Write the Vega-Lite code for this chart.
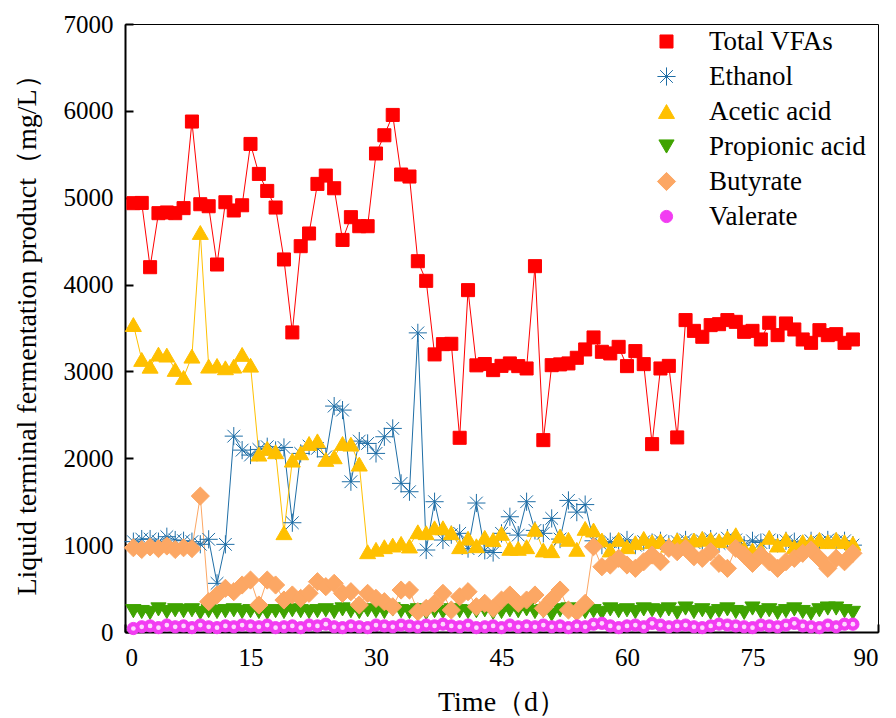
{
  "$schema": "https://vega.github.io/schema/vega-lite/v6.json",
  "width": 753,
  "height": 608,
  "autosize": {"type": "none"},
  "padding": {"left": 125, "top": 24, "right": 18, "bottom": 86},
  "background": "white",
  "config": {
    "view": {"stroke": "#000", "strokeWidth": 1},
    "axis": {"domainColor": "#000", "domainWidth": 2, "tickColor": "#000", "tickWidth": 2, "tickSize": -8, "grid": false,
      "labelFont": "Liberation Serif", "labelFontSize": 25, "labelColor": "#000",
      "titleFont": "Liberation Serif", "titleFontSize": 28, "titleFontWeight": "normal", "titleColor": "#000"},
    "legend": {"labelFont": "Liberation Serif", "labelFontSize": 27, "labelColor": "#000", "labelOffset": 29, "rowPadding": 7, "symbolStrokeWidth": 1, "padding": 0}
  },
  "data": {"values": [
    {"d":1,"Total VFAs":4937,"Ethanol":1040,"Acetic acid":3540,"Propionic acid":240,"Butyrate":970,"Valerate":40},
    {"d":2,"Total VFAs":4940,"Ethanol":1070,"Acetic acid":3138,"Propionic acid":230,"Butyrate":950,"Valerate":60},
    {"d":3,"Total VFAs":4200,"Ethanol":1070,"Acetic acid":3060,"Propionic acid":220,"Butyrate":980,"Valerate":70},
    {"d":4,"Total VFAs":4822,"Ethanol":1040,"Acetic acid":3199,"Propionic acid":260,"Butyrate":960,"Valerate":50},
    {"d":5,"Total VFAs":4830,"Ethanol":1097,"Acetic acid":3188,"Propionic acid":230,"Butyrate":990,"Valerate":80},
    {"d":6,"Total VFAs":4822,"Ethanol":1059,"Acetic acid":3023,"Propionic acid":250,"Butyrate":950,"Valerate":60},
    {"d":7,"Total VFAs":4880,"Ethanol":1051,"Acetic acid":2931,"Propionic acid":240,"Butyrate":970,"Valerate":70},
    {"d":8,"Total VFAs":5877,"Ethanol":1040,"Acetic acid":3176,"Propionic acid":250,"Butyrate":960,"Valerate":50},
    {"d":9,"Total VFAs":4925,"Ethanol":1010,"Acetic acid":4600,"Propionic acid":220,"Butyrate":1565,"Valerate":80},
    {"d":10,"Total VFAs":4902,"Ethanol":1067,"Acetic acid":3061,"Propionic acid":240,"Butyrate":349,"Valerate":60},
    {"d":11,"Total VFAs":4231,"Ethanol":560,"Acetic acid":3069,"Propionic acid":230,"Butyrate":426,"Valerate":50},
    {"d":12,"Total VFAs":4948,"Ethanol":1009,"Acetic acid":3042,"Propionic acid":240,"Butyrate":503,"Valerate":70},
    {"d":13,"Total VFAs":4853,"Ethanol":2255,"Acetic acid":3061,"Propionic acid":250,"Butyrate":464,"Valerate":60},
    {"d":14,"Total VFAs":4913,"Ethanol":2094,"Acetic acid":3196,"Propionic acid":230,"Butyrate":541,"Valerate":80},
    {"d":15,"Total VFAs":5619,"Ethanol":2037,"Acetic acid":3072,"Propionic acid":240,"Butyrate":598,"Valerate":70},
    {"d":16,"Total VFAs":5274,"Ethanol":2102,"Acetic acid":2048,"Propionic acid":230,"Butyrate":311,"Valerate":60},
    {"d":17,"Total VFAs":5078,"Ethanol":2133,"Acetic acid":2114,"Propionic acid":220,"Butyrate":598,"Valerate":80},
    {"d":18,"Total VFAs":4887,"Ethanol":2090,"Acetic acid":2075,"Propionic acid":240,"Butyrate":541,"Valerate":50},
    {"d":19,"Total VFAs":4289,"Ethanol":2125,"Acetic acid":1143,"Propionic acid":230,"Butyrate":368,"Valerate":60},
    {"d":20,"Total VFAs":3449,"Ethanol":1258,"Acetic acid":1979,"Propionic acid":250,"Butyrate":426,"Valerate":70},
    {"d":21,"Total VFAs":4442,"Ethanol":2056,"Acetic acid":2063,"Propionic acid":240,"Butyrate":387,"Valerate":50},
    {"d":22,"Total VFAs":4588,"Ethanol":2140,"Acetic acid":2171,"Propionic acid":230,"Butyrate":445,"Valerate":80},
    {"d":23,"Total VFAs":5159,"Ethanol":2114,"Acetic acid":2201,"Propionic acid":240,"Butyrate":579,"Valerate":70},
    {"d":24,"Total VFAs":5255,"Ethanol":2017,"Acetic acid":1987,"Propionic acid":250,"Butyrate":522,"Valerate":90},
    {"d":25,"Total VFAs":5109,"Ethanol":2601,"Acetic acid":2017,"Propionic acid":230,"Butyrate":560,"Valerate":60},
    {"d":26,"Total VFAs":4514,"Ethanol":2555,"Acetic acid":2171,"Propionic acid":260,"Butyrate":445,"Valerate":50},
    {"d":27,"Total VFAs":4776,"Ethanol":1730,"Acetic acid":2163,"Propionic acid":240,"Butyrate":464,"Valerate":70},
    {"d":28,"Total VFAs":4672,"Ethanol":2198,"Acetic acid":1933,"Propionic acid":230,"Butyrate":311,"Valerate":60},
    {"d":29,"Total VFAs":4672,"Ethanol":2171,"Acetic acid":924,"Propionic acid":250,"Butyrate":445,"Valerate":50},
    {"d":30,"Total VFAs":5509,"Ethanol":2056,"Acetic acid":952,"Propionic acid":240,"Butyrate":387,"Valerate":80},
    {"d":31,"Total VFAs":5719,"Ethanol":2248,"Acetic acid":982,"Propionic acid":230,"Butyrate":349,"Valerate":70},
    {"d":32,"Total VFAs":5953,"Ethanol":2344,"Acetic acid":1001,"Propionic acid":260,"Butyrate":291,"Valerate":60},
    {"d":33,"Total VFAs":5267,"Ethanol":1711,"Acetic acid":1021,"Propionic acid":240,"Butyrate":483,"Valerate":80},
    {"d":34,"Total VFAs":5244,"Ethanol":1615,"Acetic acid":990,"Propionic acid":230,"Butyrate":483,"Valerate":70},
    {"d":35,"Total VFAs":4269,"Ethanol":3444,"Acetic acid":1154,"Propionic acid":250,"Butyrate":234,"Valerate":60},
    {"d":36,"Total VFAs":4043,"Ethanol":944,"Acetic acid":1143,"Propionic acid":220,"Butyrate":272,"Valerate":80},
    {"d":37,"Total VFAs":3196,"Ethanol":1500,"Acetic acid":1200,"Propionic acid":240,"Butyrate":330,"Valerate":70},
    {"d":38,"Total VFAs":3314,"Ethanol":1059,"Acetic acid":1200,"Propionic acid":230,"Butyrate":445,"Valerate":90},
    {"d":39,"Total VFAs":3318,"Ethanol":1120,"Acetic acid":1143,"Propionic acid":250,"Butyrate":253,"Valerate":70},
    {"d":40,"Total VFAs":2236,"Ethanol":1136,"Acetic acid":982,"Propionic acid":240,"Butyrate":406,"Valerate":60},
    {"d":41,"Total VFAs":3936,"Ethanol":960,"Acetic acid":1080,"Propionic acid":230,"Butyrate":464,"Valerate":80},
    {"d":42,"Total VFAs":3070,"Ethanol":1485,"Acetic acid":993,"Propionic acid":240,"Butyrate":291,"Valerate":50},
    {"d":43,"Total VFAs":3085,"Ethanol":940,"Acetic acid":1090,"Propionic acid":250,"Butyrate":330,"Valerate":60},
    {"d":44,"Total VFAs":3015,"Ethanol":915,"Acetic acid":1063,"Propionic acid":220,"Butyrate":272,"Valerate":70},
    {"d":45,"Total VFAs":3064,"Ethanol":1136,"Acetic acid":1136,"Propionic acid":230,"Butyrate":368,"Valerate":50},
    {"d":46,"Total VFAs":3092,"Ethanol":1327,"Acetic acid":963,"Propionic acid":250,"Butyrate":426,"Valerate":80},
    {"d":47,"Total VFAs":3061,"Ethanol":1116,"Acetic acid":963,"Propionic acid":240,"Butyrate":330,"Valerate":60},
    {"d":48,"Total VFAs":3034,"Ethanol":1500,"Acetic acid":982,"Propionic acid":260,"Butyrate":368,"Valerate":70},
    {"d":49,"Total VFAs":4212,"Ethanol":1170,"Acetic acid":1182,"Propionic acid":230,"Butyrate":426,"Valerate":60},
    {"d":50,"Total VFAs":2209,"Ethanol":1136,"Acetic acid":944,"Propionic acid":240,"Butyrate":272,"Valerate":80},
    {"d":51,"Total VFAs":3072,"Ethanol":1308,"Acetic acid":936,"Propionic acid":200,"Butyrate":376,"Valerate":60},
    {"d":52,"Total VFAs":3081,"Ethanol":1070,"Acetic acid":1105,"Propionic acid":250,"Butyrate":483,"Valerate":70},
    {"d":53,"Total VFAs":3092,"Ethanol":1515,"Acetic acid":1067,"Propionic acid":260,"Butyrate":253,"Valerate":50},
    {"d":54,"Total VFAs":3157,"Ethanol":1380,"Acetic acid":952,"Propionic acid":210,"Butyrate":234,"Valerate":70},
    {"d":55,"Total VFAs":3253,"Ethanol":1467,"Acetic acid":1193,"Propionic acid":230,"Butyrate":330,"Valerate":60},
    {"d":56,"Total VFAs":3391,"Ethanol":1050,"Acetic acid":1174,"Propionic acid":240,"Butyrate":982,"Valerate":90},
    {"d":57,"Total VFAs":3226,"Ethanol":1000,"Acetic acid":1059,"Propionic acid":220,"Butyrate":751,"Valerate":100},
    {"d":58,"Total VFAs":3207,"Ethanol":1040,"Acetic acid":944,"Propionic acid":260,"Butyrate":771,"Valerate":70},
    {"d":59,"Total VFAs":3283,"Ethanol":1020,"Acetic acid":1067,"Propionic acid":240,"Butyrate":848,"Valerate":50},
    {"d":60,"Total VFAs":3061,"Ethanol":1060,"Acetic acid":982,"Propionic acid":250,"Butyrate":771,"Valerate":70},
    {"d":61,"Total VFAs":3234,"Ethanol":1000,"Acetic acid":1028,"Propionic acid":230,"Butyrate":733,"Valerate":80},
    {"d":62,"Total VFAs":3084,"Ethanol":1040,"Acetic acid":1078,"Propionic acid":260,"Butyrate":809,"Valerate":60},
    {"d":63,"Total VFAs":2163,"Ethanol":1030,"Acetic acid":1040,"Propionic acid":250,"Butyrate":886,"Valerate":100},
    {"d":64,"Total VFAs":3034,"Ethanol":1050,"Acetic acid":1050,"Propionic acid":240,"Butyrate":809,"Valerate":80},
    {"d":65,"Total VFAs":3064,"Ethanol":1010,"Acetic acid":1000,"Propionic acid":260,"Butyrate":963,"Valerate":60},
    {"d":66,"Total VFAs":2240,"Ethanol":1040,"Acetic acid":1059,"Propionic acid":220,"Butyrate":924,"Valerate":70},
    {"d":67,"Total VFAs":3591,"Ethanol":1060,"Acetic acid":1032,"Propionic acid":270,"Butyrate":963,"Valerate":80},
    {"d":68,"Total VFAs":3467,"Ethanol":1030,"Acetic acid":1059,"Propionic acid":230,"Butyrate":867,"Valerate":60},
    {"d":69,"Total VFAs":3399,"Ethanol":1050,"Acetic acid":1078,"Propionic acid":250,"Butyrate":848,"Valerate":50},
    {"d":70,"Total VFAs":3533,"Ethanol":1070,"Acetic acid":1067,"Propionic acid":220,"Butyrate":924,"Valerate":70},
    {"d":71,"Total VFAs":3544,"Ethanol":1020,"Acetic acid":1051,"Propionic acid":240,"Butyrate":790,"Valerate":90},
    {"d":72,"Total VFAs":3591,"Ethanol":1080,"Acetic acid":1085,"Propionic acid":260,"Butyrate":733,"Valerate":80},
    {"d":73,"Total VFAs":3571,"Ethanol":1060,"Acetic acid":1120,"Propionic acid":230,"Butyrate":963,"Valerate":70},
    {"d":74,"Total VFAs":3456,"Ethanol":1000,"Acetic acid":963,"Propionic acid":220,"Butyrate":886,"Valerate":60},
    {"d":75,"Total VFAs":3467,"Ethanol":1050,"Acetic acid":944,"Propionic acid":270,"Butyrate":790,"Valerate":50},
    {"d":76,"Total VFAs":3368,"Ethanol":1030,"Acetic acid":952,"Propionic acid":230,"Butyrate":886,"Valerate":80},
    {"d":77,"Total VFAs":3560,"Ethanol":1060,"Acetic acid":1090,"Propionic acid":250,"Butyrate":809,"Valerate":70},
    {"d":78,"Total VFAs":3418,"Ethanol":1020,"Acetic acid":1001,"Propionic acid":220,"Butyrate":733,"Valerate":60},
    {"d":79,"Total VFAs":3552,"Ethanol":1050,"Acetic acid":1067,"Propionic acid":240,"Butyrate":809,"Valerate":80},
    {"d":80,"Total VFAs":3483,"Ethanol":1040,"Acetic acid":982,"Propionic acid":260,"Butyrate":848,"Valerate":100},
    {"d":81,"Total VFAs":3368,"Ethanol":1000,"Acetic acid":1040,"Propionic acid":230,"Butyrate":906,"Valerate":70},
    {"d":82,"Total VFAs":3329,"Ethanol":1050,"Acetic acid":1040,"Propionic acid":210,"Butyrate":944,"Valerate":60},
    {"d":83,"Total VFAs":3475,"Ethanol":1030,"Acetic acid":1067,"Propionic acid":250,"Butyrate":848,"Valerate":50},
    {"d":84,"Total VFAs":3418,"Ethanol":1060,"Acetic acid":1040,"Propionic acid":270,"Butyrate":733,"Valerate":80},
    {"d":85,"Total VFAs":3429,"Ethanol":1040,"Acetic acid":1067,"Propionic acid":270,"Butyrate":848,"Valerate":60},
    {"d":86,"Total VFAs":3329,"Ethanol":1050,"Acetic acid":1040,"Propionic acid":240,"Butyrate":809,"Valerate":90},
    {"d":87,"Total VFAs":3368,"Ethanol":1000,"Acetic acid":1021,"Propionic acid":220,"Butyrate":906,"Valerate":90}
  ]},
  "transform": [
    {"fold": ["Total VFAs","Ethanol","Acetic acid","Propionic acid","Butyrate","Valerate"], "as": ["series","value"]},
    {"lookup": "series", "from": {"data": {"values": [{"series":"Total VFAs","k":1},{"series":"Ethanol","k":2},{"series":"Acetic acid","k":3},{"series":"Propionic acid","k":4},{"series":"Butyrate","k":5},{"series":"Valerate","k":6}]}, "key": "series", "fields": ["k"]}}
  ],
  "encoding": {
    "x": {"field": "d", "type": "quantitative", "scale": {"domain": [0, 90], "nice": false},
      "axis": {"values": [0,15,30,45,60,75,90], "title": "Time（d）", "labelPadding": 21, "titlePadding": 18}},
    "y": {"field": "value", "type": "quantitative", "scale": {"domain": [0, 7000], "nice": false},
      "axis": {"values": [0,1000,2000,3000,4000,5000,6000,7000], "format": "d", "title": "Liquid terminal fermentation product（mg/L）", "labelPadding": 20, "titlePadding": 22}}
  },
  "layer": [
    {"mark": {"type": "line", "strokeWidth": 1},
     "encoding": {"color": {"field": "series", "type": "nominal", "scale": {"domain": ["Valerate","Butyrate","Propionic acid","Acetic acid","Ethanol","Total VFAs"], "range": ["#F23CF2","#FCA764","#3FA300","#FFC000","#1F6EA6","#FF0000"]}, "legend": null}}},
    {"mark": {"type": "point", "filled": true, "opacity": 1, "strokeWidth": 1},
     "encoding": {
       "fill": {"field": "series", "type": "nominal", "scale": {"domain": ["Total VFAs","Ethanol","Acetic acid","Propionic acid","Butyrate","Valerate"], "range": ["#FF0000","#1F6EA6","#FFC000","#3FA300","#FCA764","#F23CF2"]},
         "legend": {"orient": "none", "legendX": 528, "legendY": 4, "title": null, "padding": 0, "symbolStrokeWidth": 1, "labelOffset": 29, "rowPadding": 7,
           "labelFont": "Liberation Serif", "labelFontSize": 27, "labelColor": "#000"}},
       "stroke": {"field": "series", "type": "nominal", "scale": {"domain": ["Total VFAs","Ethanol","Acetic acid","Propionic acid","Butyrate","Valerate"], "range": ["#FF0000","#1F6EA6","#FFC000","#3FA300","#FCA764","#F23CF2"]}},
       "shape": {"field": "series", "type": "nominal", "scale": {"domain": ["Total VFAs","Ethanol","Acetic acid","Propionic acid","Butyrate","Valerate"], "range": ["square","M-1,0L1,0M0,-1L0,1M-0.7,-0.7L0.7,0.7M-0.7,0.7L0.7,-0.7","triangle-up","triangle-down","diamond","circle"]}},
       "size": {"field": "series", "type": "nominal", "scale": {"type": "ordinal", "domain": ["Total VFAs","Ethanol","Acetic acid","Propionic acid","Butyrate","Valerate"], "range": [170, 330, 256, 230, 330, 150]}},
       "order": {"field": "k", "type": "quantitative"}
     }},
    {"transform": [{"filter": "datum.series === 'Valerate'"}],
     "mark": {"type": "point", "filled": true, "opacity": 1, "shape": "circle", "size": 22, "color": "#FFD6FF"}}
  ]
}
